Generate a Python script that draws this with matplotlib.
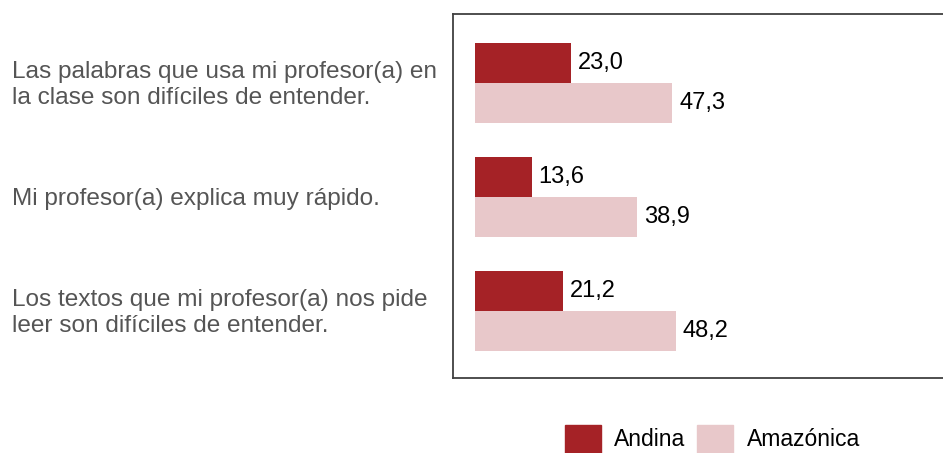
import matplotlib
matplotlib.use("Agg")
import matplotlib.pyplot as plt
from matplotlib.patches import Rectangle

categories = [
    "Las palabras que usa mi profesor(a) en\nla clase son difíciles de entender.",
    "Mi profesor(a) explica muy rápido.",
    "Los textos que mi profesor(a) nos pide\nleer son difíciles de entender.",
]
andina = [23.0, 13.6, 21.2]
amazonica = [47.3, 38.9, 48.2]
series_names = ["Andina", "Amazónica"]
colors = ["#A52226", "#E8C8CA"]

plt.rcParams['font.family'] = ['Liberation Sans', 'DejaVu Sans']

W, H = 943, 453
fig = plt.figure(figsize=(W / 100, H / 100), dpi=100)
ax_left, ax_right, ax_top, ax_bot = 453, 946, 14, 378
ax = fig.add_axes([ax_left / W, 1 - ax_bot / H, (ax_right - ax_left) / W, (ax_bot - ax_top) / H])

bh = 40 / 114
ys = list(range(len(categories)))
ax.barh([y - bh / 2 for y in ys], andina, height=bh, color=colors[0], label=series_names[0])
ax.barh([y + bh / 2 for y in ys], amazonica, height=bh, color=colors[1], label=series_names[1])

def fmt(v):
    return f"{v:.1f}".replace(".", ",")

for y, a, b in zip(ys, andina, amazonica):
    ax.annotate(fmt(a), (a, y - bh / 2), xytext=(7, 0), textcoords="offset pixels",
                va="center", ha="left", fontsize=17, color="#000000")
    ax.annotate(fmt(b), (b, y + bh / 2), xytext=(7, 0), textcoords="offset pixels",
                va="center", ha="left", fontsize=17, color="#000000")

scale = (672 - 475) / 47.3
ax.set_xlim((ax_left - 475) / scale, (ax_right - 475) / scale)
ax.set_ylim(2 + (378 - 311) / 114, -(83 - 14) / 114)
ax.set_xticks([])
ax.set_yticks([])
for s in ax.spines.values():
    s.set_color("#404040")
    s.set_linewidth(1.3)

for y, c in zip(ys, categories):
    fig.text(12 / W, 1 - (85 + 114 * y) / H, c, ha="left", va="center",
             fontsize=17.6, color="#555555", linespacing=1.2)

# legend drawn in figure pixel positions
leg = [(565, 614), (697, 747)]
for (sx, tx), name, col in zip(leg, series_names, colors):
    fig.patches.append(Rectangle((sx / W, 1 - 453 / H), 36 / W, 28 / H,
                                 transform=fig.transFigure, color=col))
    fig.text(tx / W, 1 - 440 / H, name, ha="left", va="center", fontsize=16.5, color="#000000")

fig.savefig("out.png", dpi=100)
